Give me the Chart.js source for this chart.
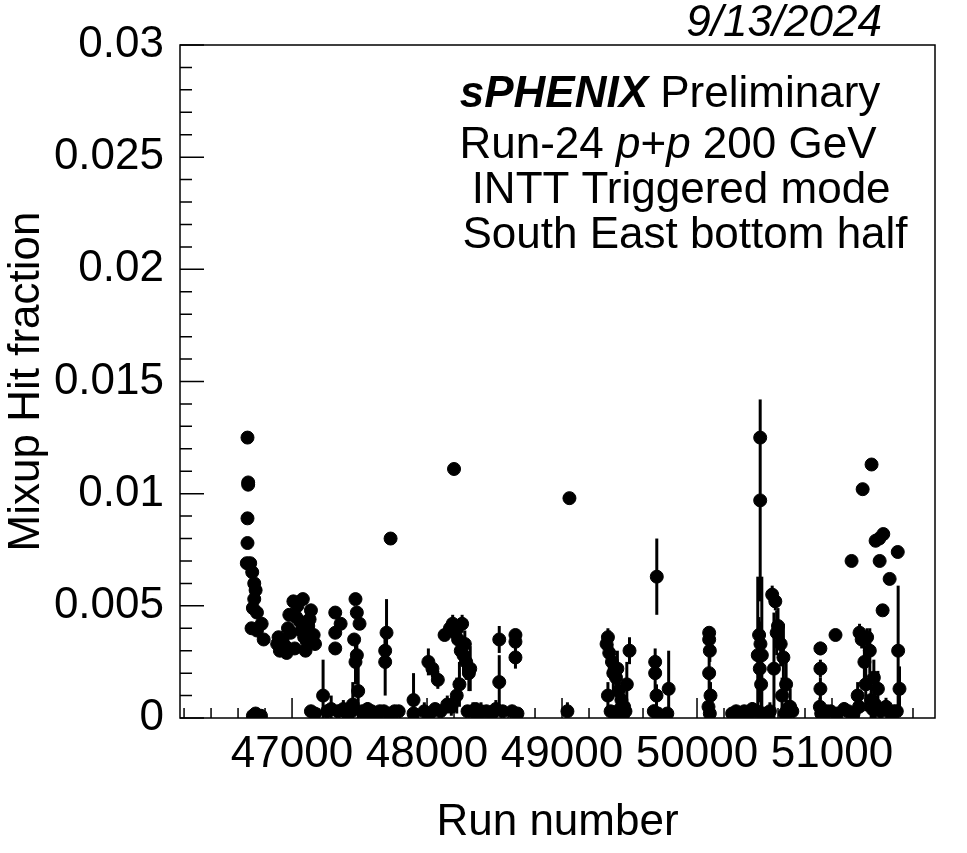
<!DOCTYPE html>
<html>
<head>
<meta charset="utf-8">
<script src="https://cdn.jsdelivr.net/npm/chart.js@4/dist/chart.umd.min.js"></script>
<style>
  html, body { margin: 0; padding: 0; background: #fff; }
  #wrap { width: 967px; height: 853px; position: relative; }
</style>
</head>
<body>
<div id="wrap"><canvas id="c"></canvas></div>
<script>
// run numbers, hit fraction and vertical error
const runs = [
  46670, 46675, 46675, 46670, 46670, 46665, 46690, 46705, 46720, 46730, 46720, 46710, 46740, 46775, 46700, 46740, 46790,
  46710, 46730, 46750, 46770,
  46890, 46910, 46930, 46950, 46970, 46990, 47010, 47030, 47040, 47060, 47080, 47090, 47100, 47120, 47140, 47160, 47170, 46960, 47020, 47070, 47130, 46900, 46980, 47110,
  47140, 47170, 47230, 47260, 47290, 47320, 47320, 47320, 47360, 47340, 47380, 47410, 47440,
  47470, 47480, 47500, 47460, 47480, 47470, 47490, 47450, 47520, 47540, 47560, 47590, 47620, 47650,
  47700, 47690, 47690, 47730, 47680, 47720, 47760, 47790,
  47900, 47900, 48010, 48040, 48080, 48130, 47980, 48020, 48060, 48100, 48150,
  48200, 48170, 48190, 48210, 48230, 48250, 48270, 48290, 48310, 48240, 48220, 48260, 48280, 48320, 48340, 48360, 48380, 48400, 48180, 48300,
  48440, 48480, 48535, 48535, 48510, 48560, 48655, 48655, 48655, 48630, 48670,
  49055, 49040,
  49330, 49340, 49350, 49370, 49380, 49400, 49420, 49440, 49460, 49480, 49500, 49360, 49390, 49430, 49450, 49470, 49340, 49410,
  49702, 49690, 49690, 49700, 49680, 49710, 49790, 49780,
  50090, 50090, 50095, 50090, 50100, 50085, 50095,
  50260, 50290, 50320, 50350, 50380, 50410, 50440,
  50468, 50468, 50460, 50470, 50480, 50465, 50475, 50400, 50450, 50490,
  50557, 50580, 50600, 50620, 50640, 50660, 50690, 50706, 50540, 50570, 50590, 50630, 50670, 50520, 50650,
  50914, 50914, 50914, 50910, 50920, 50960, 51026,
  51145, 51227, 51293, 51323, 51350, 51380, 51353, 51427, 51375, 51487, 51204, 51220, 51260, 51280, 51240, 51310, 51190, 51340, 51400, 51460,
  51490, 51500,
  50940, 50990, 51040, 51090, 51120, 51160, 51200, 51300, 51360, 51440, 51480, 51290, 51320, 51250
];
const fraction = [
  0.0125, 0.0105, 0.0104, 0.0089, 0.0078, 0.0069, 0.0069, 0.0065, 0.0060, 0.0057, 0.0053, 0.0049, 0.0047, 0.0042, 0.0040, 0.0039, 0.0035,
  0.0001, 0.0002, 0.0001, 0.0001,
  0.0033, 0.0030, 0.0035, 0.0032, 0.0040, 0.0038, 0.0052, 0.0045, 0.0050, 0.0043, 0.0053, 0.0036, 0.0030, 0.0041, 0.0048, 0.0037, 0.0033, 0.0029, 0.0031, 0.0039, 0.0044, 0.0036, 0.0046, 0.0034,
  0.0003, 0.0002, 0.0010, 0.0003, 0.0004, 0.0047, 0.0038, 0.0031, 0.0042, 0.0003, 0.0004, 0.0002, 0.0003,
  0.0053, 0.0047, 0.0042, 0.0035, 0.0028, 0.0025, 0.0012, 0.0006, 0.0003, 0.0002, 0.0004, 0.0003, 0.0002, 0.0003,
  0.0038, 0.0030, 0.0025, 0.0080, 0.0003, 0.0002, 0.0003, 0.0003,
  0.0008, 0.0002, 0.0025, 0.0022, 0.0017, 0.0037, 0.0003, 0.0002, 0.0004, 0.0003, 0.0006,
  0.0111, 0.0040, 0.0042, 0.0038, 0.0035, 0.0030, 0.0028, 0.0025, 0.0020, 0.0015, 0.0010, 0.0042, 0.0033, 0.0022, 0.0003, 0.0004, 0.0002, 0.0003, 0.0005, 0.0003,
  0.0003, 0.0002, 0.0035, 0.0016, 0.0004, 0.0003, 0.0037, 0.0034, 0.0027, 0.0003, 0.0002,
  0.0098, 0.0003,
  0.0033, 0.0036, 0.0029, 0.0025, 0.0020, 0.0018, 0.0012, 0.0008, 0.0005, 0.0015, 0.0030, 0.0003, 0.0002, 0.0004, 0.0001, 0.0003, 0.0010, 0.0022,
  0.0063, 0.0025, 0.0020, 0.0010, 0.0003, 0.0002, 0.0013, 0.0002,
  0.0038, 0.0035, 0.0030, 0.0020, 0.0010, 0.0005, 0.0002,
  0.0002, 0.0003, 0.0002, 0.0003, 0.0002, 0.0004, 0.0003,
  0.0125, 0.0097, 0.0037, 0.0033, 0.0028, 0.0022, 0.0015, 0.0003, 0.0028, 0.0002,
  0.0055, 0.0052, 0.0041, 0.0033, 0.0027, 0.0015, 0.0005, 0.0003, 0.0003, 0.0022, 0.0038, 0.0010, 0.0004, 0.0002, 0.0002,
  0.0031, 0.0022, 0.0013, 0.0005, 0.0002, 0.0003, 0.0037,
  0.0070, 0.0102, 0.0113, 0.0079, 0.0080, 0.0082, 0.0070, 0.0062, 0.0048, 0.0074, 0.0038, 0.0035, 0.0036, 0.0030, 0.0025, 0.0018, 0.0010, 0.0013, 0.0005, 0.0003,
  0.0030, 0.0013,
  0.0002, 0.0003, 0.0002, 0.0004, 0.0003, 0.0002, 0.0005, 0.0004, 0.0003, 0.0002, 0.0003, 0.0008, 0.0006, 0.0015
];
const errors = [
  0, 0, 0, 0, 0, 0, 0, 0, 0, 0, 0, 0, 0, 0, 0, 0, 0,
  0, 0, 0, 0,
  0, 0, 0, 0, 0, 0, 0, 0, 0, 0, 0, 0, 0, 0, 0, 0, 0, 0, 0, 0, 0, 0, 0, 0,
  0.0002, 0.0002, 0.0016, 0.0003, 0.0006, 0, 0, 0, 0, 0.0002, 0.0004, 0.0003, 0.0002,
  0, 0, 0, 0, 0.0008, 0.0010, 0.0015, 0.0010, 0.0002, 0.0002, 0.0003, 0.0002, 0.0002, 0.0002,
  0.0015, 0.0008, 0.0015, 0, 0.0002, 0.0002, 0.0002, 0.0002,
  0.0012, 0.0002, 0.0006, 0.0004, 0.0004, 0, 0.0004, 0.0002, 0.0002, 0.0002, 0.0004,
  0, 0.0004, 0.0004, 0.0005, 0.0005, 0.0006, 0.0008, 0.0008, 0.0008, 0.0010, 0.0008, 0.0004, 0.0006, 0.0010, 0.0004, 0.0002, 0.0002, 0.0004, 0.0004, 0.0002,
  0.0002, 0.0002, 0.0006, 0.0012, 0.0004, 0.0002, 0, 0, 0.0005, 0.0002, 0.0002,
  0, 0.0004,
  0.0004, 0.0004, 0.0010, 0.0008, 0.0010, 0.0008, 0.0008, 0.0006, 0.0005, 0.0010, 0.0006, 0.0002, 0.0002, 0.0003, 0.0001, 0.0002, 0.0006, 0.0008,
  0.0017, 0.0006, 0.0008, 0.0005, 0.0003, 0.0002, 0.0017, 0.0002,
  0, 0.0004, 0.0005, 0.0008, 0.0006, 0.0004, 0.0002,
  0.0002, 0.0002, 0.0002, 0.0002, 0.0002, 0.0003, 0.0002,
  0, 0.0045, 0.0008, 0.0010, 0.0035, 0.0015, 0.0015, 0.0002, 0.0035, 0.0002,
  0.0004, 0.0004, 0.0008, 0.0010, 0.0015, 0.0010, 0.0008, 0.0002, 0.0004, 0.0025, 0.0010, 0.0008, 0.0004, 0.0002, 0.0003,
  0.0003, 0.0004, 0.0005, 0.0004, 0.0002, 0.0002, 0,
  0, 0, 0, 0, 0, 0, 0, 0, 0, 0, 0.0004, 0.0004, 0.0004, 0.0010, 0.0010, 0.0008, 0.0006, 0.0008, 0.0004, 0.0002,
  0.0029, 0.0010,
  0.0002, 0.0002, 0.0002, 0.0003, 0.0002, 0.0002, 0.0003, 0.0004, 0.0003, 0.0002, 0.0002, 0.0010, 0.0006, 0.0012
];
const xTickLabels = [47000, 48000, 49000, 50000, 51000];
const yTickLabels = [0, 0.005, 0.01, 0.015, 0.02, 0.025, 0.03];
const labelLines = ['Preliminary', 'Run-24 ', ' INTT Triggered mode', 'South East bottom half'];

const points = runs.map((r, i) => ({ x: r, y: fraction[i], e: errors[i] }));
const FONT = 'Arimo, "Liberation Sans", Arial, sans-serif';
const FS = 44;

// ROOT-style frame: error bars, inward ticks, text labels
const rootStyle = {
  id: 'rootStyle',
  beforeDatasetsDraw(chart) {
    const { ctx, scales: { x, y } } = chart;
    ctx.save();
    ctx.strokeStyle = '#000';
    ctx.lineWidth = 3;
    points.forEach(p => {
      if (!p.e) return;
      const px = x.getPixelForValue(p.x);
      ctx.beginPath();
      ctx.moveTo(px, y.getPixelForValue(Math.max(0, p.y - p.e)));
      ctx.lineTo(px, y.getPixelForValue(p.y + p.e));
      ctx.stroke();
    });
    ctx.restore();
  },
  afterDraw(chart) {
    const { ctx, chartArea: a, scales: { x, y } } = chart;
    ctx.save();
    ctx.strokeStyle = '#000';
    ctx.lineWidth = 1.5;
    ctx.strokeRect(a.left, a.top, a.right - a.left, a.bottom - a.top);
    ctx.beginPath();
    for (let v = 0; v <= 0.0300001; v += 0.001) {
      const py = y.getPixelForValue(v);
      const major = Math.abs(v / 0.005 - Math.round(v / 0.005)) < 1e-6;
      ctx.moveTo(a.left, py); ctx.lineTo(a.left + (major ? 24 : 12), py);
    }
    for (let v = 46200; v <= 51700; v += 200) {
      const px = x.getPixelForValue(v);
      const major = v % 1000 === 0;
      ctx.moveTo(px, a.bottom); ctx.lineTo(px, a.bottom - (major ? 20 : 10));
    }
    ctx.stroke();

    ctx.fillStyle = '#000';
    ctx.textBaseline = 'alphabetic';
    ctx.font = 'italic ' + FS + 'px ' + FONT;
    ctx.textAlign = 'right';
    ctx.fillText('9/13/2024', 882, 36);

    // sPHENIX line
    ctx.textAlign = 'left';
    ctx.font = 'italic bold ' + FS + 'px ' + FONT;
    const w1 = ctx.measureText('sPHENIX').width;
    ctx.font = FS + 'px ' + FONT;
    const w2 = ctx.measureText(' ' + labelLines[0]).width;
    let sx = 670 - (w1 + w2) / 2;
    ctx.font = 'italic bold ' + FS + 'px ' + FONT;
    ctx.fillText('sPHENIX', sx, 107);
    ctx.font = FS + 'px ' + FONT;
    ctx.fillText(' ' + labelLines[0], sx + w1, 107);

    // Run-24 p+p 200 GeV
    const parts = [['Run-24 ', ''], ['p', 'italic '], ['+', ''], ['p', 'italic '], [' 200 GeV', '']];
    let tw = 0;
    parts.forEach(([t, s]) => { ctx.font = s + FS + 'px ' + FONT; tw += ctx.measureText(t).width; });
    sx = 668 - tw / 2;
    parts.forEach(([t, s]) => { ctx.font = s + FS + 'px ' + FONT; ctx.fillText(t, sx, 158); sx += ctx.measureText(t).width; });

    ctx.font = FS + 'px ' + FONT;
    ctx.textAlign = 'center';
    ctx.fillText(labelLines[2], 675, 203);
    ctx.fillText(labelLines[3], 685, 248);
    ctx.restore();
  }
};

new Chart(document.getElementById('c'), {
  type: 'scatter',
  data: {
    datasets: [{
      data: points,
      backgroundColor: '#000',
      borderColor: '#000',
      pointRadius: 6.5,
      pointHoverRadius: 6.5
    }]
  },
  options: {
    responsive: true,
    maintainAspectRatio: false,
    animation: false,
    layout: { padding: { top: 45, right: 32, left: 0, bottom: 0 } },
    plugins: { legend: { display: false }, tooltip: { enabled: false } },
    scales: {
      x: {
        type: 'linear',
        min: 46170,
        max: 51763,
        grid: { display: false },
        border: { display: false },
        afterBuildTicks: s => { s.ticks = xTickLabels.map(v => ({ value: v })); },
        afterFit: s => { s.height = 135; },
        ticks: { color: '#000', font: { family: FONT, size: FS }, padding: 2, maxRotation: 0, autoSkip: false, callback: v => String(v) },
        title: { display: true, text: 'Run number', color: '#000', font: { family: FONT, size: FS }, padding: { top: 30, left: 20 } }
      },
      y: {
        min: 0,
        max: 0.03,
        grid: { display: false },
        border: { display: false },
        afterBuildTicks: s => { s.ticks = yTickLabels.map(v => ({ value: v })); },
        afterFit: s => { s.width = 180; },
        ticks: { color: '#000', font: { family: FONT, size: FS }, padding: 8, callback: v => String(v) },
        title: { display: true, text: 'Mixup Hit fraction', color: '#000', font: { family: FONT, size: FS }, padding: { top: 0, bottom: 0 } }
      }
    }
  },
  plugins: [rootStyle]
});
</script>
</body>
</html>
